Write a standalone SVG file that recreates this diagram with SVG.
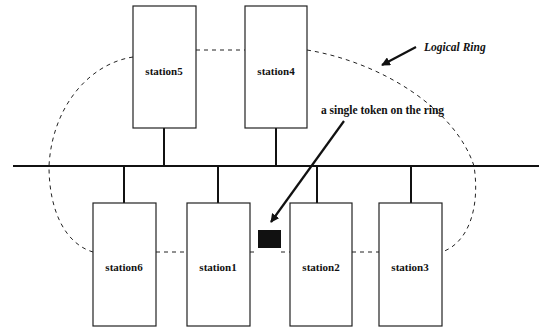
<svg xmlns="http://www.w3.org/2000/svg" width="539" height="331" viewBox="0 0 539 331">
<style>
.box{fill:#fff;stroke:#222;stroke-width:1.2}
.wire{stroke:#111;stroke-width:2;fill:none}
.ring{stroke:#222;stroke-width:1;fill:none;stroke-dasharray:4 4}
.lbl{font-family:"Liberation Serif",serif;font-weight:bold;font-size:11px;fill:#111;text-anchor:middle}
.note{font-family:"Liberation Serif",serif;font-weight:bold;font-size:11.5px;fill:#111}
.arrow{stroke:#111;stroke-width:2.2;fill:none}
</style>
<defs>
<marker id="ah" viewBox="0 0 10 10" refX="9" refY="5" markerWidth="4" markerHeight="4" orient="auto">
<path d="M0,0 L10,5 L0,10 z" fill="#111"/>
</marker>
</defs>
<rect width="539" height="331" fill="#fff"/>
<g id="connectors">
<line class="wire" x1="13" y1="166" x2="539" y2="166"/>
<line class="wire" x1="164" y1="128" x2="164" y2="166"/>
<line class="wire" x1="276" y1="128" x2="276" y2="166"/>
<line class="wire" x1="124" y1="166" x2="124" y2="203"/>
<line class="wire" x1="218" y1="166" x2="218" y2="203"/>
<line class="wire" x1="317" y1="166" x2="317" y2="203"/>
<line class="wire" x1="411" y1="166" x2="411" y2="203"/>
</g>
<g id="ring">
<path class="ring" d="M133,57 C88,64 52,108 49,166 C49,212 66,244 93,252"/>
<path class="ring" d="M196,50 L245,50"/>
<path class="ring" d="M307,50 C380,62 455,108 474,166 C480,205 470,242 442,252"/>
<path class="ring" d="M156,252 L187,252"/>
<path class="ring" d="M250,252 L258,252"/>
<path class="ring" d="M281,252 L290,252"/>
<path class="ring" d="M352,252 L379,252"/>
</g>
<g id="station5"><rect class="box" x="133" y="6" width="63" height="122"/><text class="lbl" x="164" y="75">station5</text></g>
<g id="station4"><rect class="box" x="245" y="6" width="62" height="122"/><text class="lbl" x="276" y="75">station4</text></g>
<g id="station6"><rect class="box" x="93" y="203" width="63" height="123"/><text class="lbl" x="124" y="271">station6</text></g>
<g id="station1"><rect class="box" x="187" y="203" width="63" height="123"/><text class="lbl" x="218" y="271">station1</text></g>
<g id="station2"><rect class="box" x="290" y="203" width="62" height="123"/><text class="lbl" x="321" y="271">station2</text></g>
<g id="station3"><rect class="box" x="379" y="203" width="63" height="123"/><text class="lbl" x="410" y="271">station3</text></g>
<g id="token"><rect x="258" y="230" width="23" height="18" fill="#111"/></g>
<g id="logical-ring-label">
<text class="note" x="424" y="51" font-style="italic">Logical Ring</text>
<line class="arrow" x1="416" y1="47" x2="382" y2="65" marker-end="url(#ah)"/>
</g>
<g id="token-label">
<text class="note" x="321" y="114" textLength="123">a single token on the ring</text>
<line class="arrow" x1="344" y1="121" x2="271" y2="222" marker-end="url(#ah)"/>
</g>
</svg>
